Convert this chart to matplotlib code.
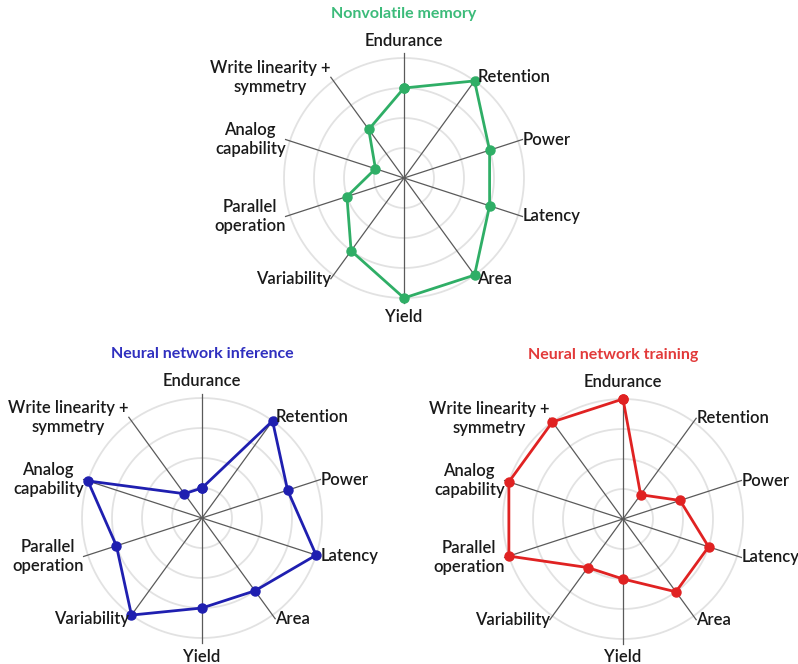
import numpy as np
import matplotlib
matplotlib.use("Agg")
import matplotlib.pyplot as plt

plt.rcParams["font.family"] = ["Lato", "DejaVu Sans"]

# ---------- data (score 0-4 on each axis, clockwise from top) ----------
axes_labels = ["Endurance", "Retention", "Power", "Latency", "Area", "Yield",
               "Variability", "Parallel\noperation", "Analog\ncapability",
               "Write linearity +\nsymmetry"]

nvm_scores = [3, 4, 3, 3, 4, 4, 3, 2, 1, 2]
inference_scores = [1, 4, 3, 4, 3, 3, 4, 3, 4, 1]
training_scores = [4, 1, 2, 3, 3, 2, 2, 4, 4, 4]

titles = ["Nonvolatile memory", "Neural network inference", "Neural network training"]
line_colors = ["#2fae66", "#1f1fb0", "#e02222"]
title_colors = ["#3cbb7a", "#2f2fbf", "#e23a3a"]

RMAX = 5.0
SPOKE = 4.15
N = len(axes_labels)
theta = np.arange(N) * 2 * np.pi / N


def radar(ax, scores, color, title, title_color, title_dx=0.0):
    ax.set_theta_offset(np.pi / 2)
    ax.set_theta_direction(-1)
    ax.set_rlim(0, RMAX)
    ax.grid(False)
    ax.set_xticks([])
    ax.set_yticks([])
    ax.spines["polar"].set_visible(False)
    ax.patch.set_alpha(0)

    # rings
    ring_t = np.linspace(0, 2 * np.pi, 361)
    for r in [1, 2, 3, 4]:
        ax.plot(ring_t, np.full_like(ring_t, r), color="#e2e2e2", lw=1.3, zorder=1)
    # spokes
    for t in theta:
        ax.plot([t, t], [0, SPOKE], color="#5a5a5a", lw=0.9, zorder=2)

    t_closed = np.append(theta, theta[0])
    s_closed = np.append(scores, scores[0])
    ax.plot(t_closed, s_closed, color=color, lw=2.0, marker="o", markersize=6.5,
            zorder=3, clip_on=False)

    txt = dict(fontsize=12, color="#1a1a1a", fontweight="semibold")
    for t, lab in zip(theta, axes_labels):
        deg = np.degrees(t) % 360
        if deg == 0:
            ax.text(t, 4.3, lab, ha="center", va="bottom", **txt)
        elif deg == 180:
            ax.text(t, 4.35, lab, ha="center", va="top", **txt)
        elif deg < 180:
            ax.text(t, SPOKE, lab, ha="left", va="center", **txt)
        else:
            ax.text(t, SPOKE, lab, ha="right", va="center",
                    multialignment="center", **txt)

    ax.text(0.5 + title_dx, 1.047, title, transform=ax.transAxes, ha="center",
            va="center", fontsize=11.5, fontweight="bold", color=title_color)


fig = plt.figure(figsize=(7.98, 6.64), dpi=100)
W, H = 798, 664
size = 300


def add(cx, cy):
    return fig.add_axes([(cx - size / 2) / W, (H - cy - size / 2) / H, size / W, size / H],
                        projection="polar")


ax_top = add(404, 178)
ax_bl = add(202, 518)
ax_br = add(623, 519)

radar(ax_top, nvm_scores, line_colors[0], titles[0], title_colors[0])
radar(ax_bl, inference_scores, line_colors[1], titles[1], title_colors[1])
radar(ax_br, training_scores, line_colors[2], titles[2], title_colors[2], title_dx=-0.033)

fig.savefig("out.png", dpi=100, facecolor="white")
